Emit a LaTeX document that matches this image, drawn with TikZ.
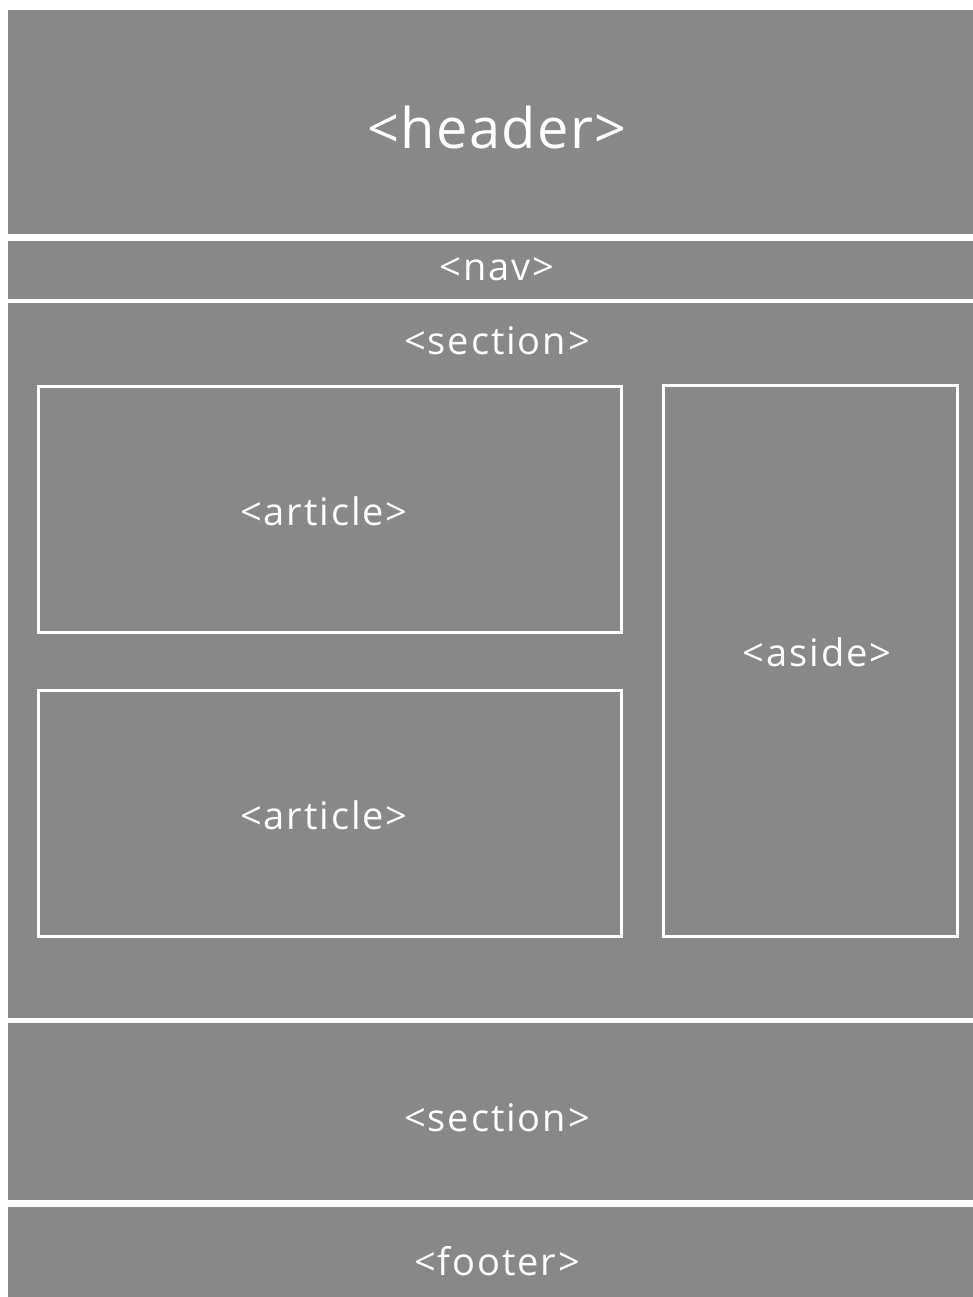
\documentclass[tikz,border=0pt]{standalone}
\usepackage{fontspec}
\setmainfont{Open Sans}
\newfontfamily\tagfont[LetterSpace=5]{Open Sans}
\newfontfamily\bigtagfont[LetterSpace=2.5]{Open Sans}
\usepackage{xcolor}
\usepackage{tikz}
\usetikzlibrary{positioning}
\definecolor{blockgray}{HTML}{888888}

\begin{document}
\begin{tikzpicture}[x=1pt,y=-1pt,
  block/.style={fill=blockgray},
  box/.style={draw=white,line width=3pt},
  tag/.style={text=white,inner sep=0pt,font=\tagfont\fontsize{38}{40}\selectfont},
  bigtag/.style={text=white,inner sep=0pt,font=\bigtagfont\fontsize{56}{60}\selectfont}]
\useasboundingbox[fill=white] (0,0) rectangle (973,1297);
% Page blocks
\fill[block] (8,10) rectangle (990,234);
\fill[block] (8,241) rectangle (990,299);
\fill[block] (8,303) rectangle (990,1018);
\fill[block] (8,1023) rectangle (990,1200);
\fill[block] (8,1207) rectangle (990,1310);
% Inner boxes of the section
\draw[box] (38,386) rectangle (621,632);
\draw[box] (38,690) rectangle (621,936);
\draw[box] (663,385) rectangle (957,936);
% Labels
\node[bigtag] (header) at (497,128) {<header>};
\node[tag] (nav) at (497,269) {<nav>};
\node[tag] (section) at (497,341) {<section>};
\node[tag] (article) at (324,511) {<article>};
\node[tag] (article2) at (324,815) {<article>};
\node[tag] (aside) at (817,652) {<aside>};
\node[tag] (section2) at (497,1118) {<section>};
\node[tag] (footer) at (497,1261) {<footer>};
\end{tikzpicture}
\end{document}
